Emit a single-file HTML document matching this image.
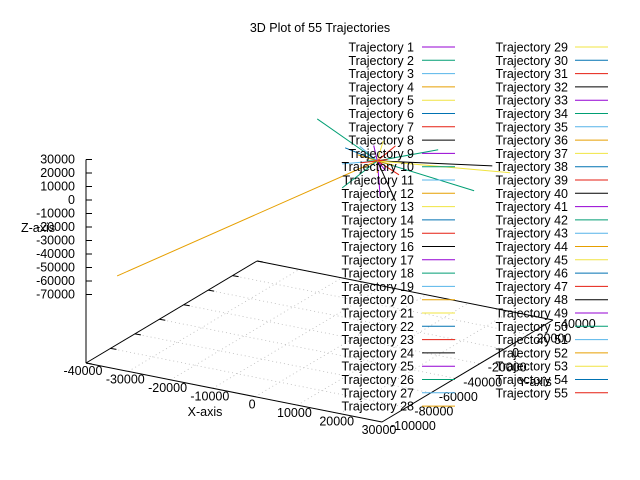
<!DOCTYPE html>
<html><head><meta charset="utf-8"><style>
html,body{margin:0;padding:0;background:#fff;}
svg{display:block;font-family:"Liberation Sans",sans-serif;}
</style></head><body>
<svg id="chart" width="640" height="480" viewBox="0 0 640 480">
<rect width="640" height="480" fill="#fff"/>
<text x="320" y="32" font-size="12.5" text-anchor="middle">3D Plot of 55 Trajectories</text>
<g id="grid"></g><g id="axes"></g><g id="series"></g><g id="legend"></g>
</svg>
<script>
const xTicks=[-40000,-30000,-20000,-10000,0,10000,20000,30000];
const yTicks=[-100000,-80000,-60000,-40000,-20000,0,20000,40000];
const zTicks=[30000,20000,10000,0,-10000,-20000,-30000,-40000,-50000,-60000,-70000];
const colors=["#9400d3","#009e73","#56b4e9","#e69f00","#f0e442","#0072b2","#e51e10","#000000"];
// trajectory endpoints [x,y,z] (start at origin)
const trajIds=[12,18,26,24,13,25,8,34,10,7,6,21,11,3,15,2,31,4,9,17,20,39,44];
const trajX=[-40000,-14200,22900,27200,31400,700,4300,-8300,14400,4300,-7600,1400,-8300,-5000,6000,-3000,3000,-6000,2000,-2000,5000,-4000,0];
const trajY=[-74500,0,0,0,0,0,0,0,0,0,0,0,0,3000,-3000,2000,-2000,5000,0,4000,-4000,0,0];
const trajZ=[-70000,22200,-7850,13300,10800,-26200,-27000,-25200,17200,13800,4900,15700,-7400,6000,-5000,-3000,4000,-2000,-6000,8000,2000,-4000,-9000];
const NS="http://www.w3.org/2000/svg";
function P(x,y,z){
  const sx=86+(x+40000)*296/70000+(y+100000)*171/140000;
  const sy=363+(x+40000)*59/70000-(y+100000)*102/140000-(z+120741)*0.00135;
  return [sx,sy];
}
function mk(tag,attrs,parent){const e=document.createElementNS(NS,tag);for(const k in attrs)e.setAttribute(k,attrs[k]);parent.appendChild(e);return e;}
const grid=document.getElementById('grid'),axes=document.getElementById('axes'),series=document.getElementById('series'),legend=document.getElementById('legend');
const zb=-120741;
xTicks.forEach(v=>{const a=P(v,-100000,zb),b=P(v,40000,zb);
  const l=mk('line',{x1:a[0],y1:a[1],x2:b[0],y2:b[1],stroke:'#bbb','stroke-width':0.8,'stroke-dasharray':'1,3'},grid);
  
  const t=mk('text',{x:a[0]-3,y:a[1]+12,'font-size':12.5,'text-anchor':'middle'},axes);t.textContent=v;
  });
yTicks.forEach(v=>{const a=P(-40000,v,zb),b=P(30000,v,zb);
  const l=mk('line',{x1:a[0],y1:a[1],x2:b[0],y2:b[1],stroke:'#bbb','stroke-width':0.8,'stroke-dasharray':'1,3'},grid);
  
  const tk=mk('line',{x1:a[0],y1:a[1],x2:a[0]+6,y2:a[1]+1,stroke:'#000'},axes);
  
  const t=mk('text',{x:b[0]+8,y:b[1]+8,'font-size':12.5,'text-anchor':'start'},axes);t.textContent=v;
  });
[[P(-40000,-100000,zb),P(30000,-100000,zb)],[P(30000,-100000,zb),P(30000,40000,zb)],[P(-40000,-100000,zb),P(-40000,40000,zb)],[P(-40000,40000,zb),P(30000,40000,zb)],[P(-40000,-100000,zb),P(-40000,-100000,30000)]].forEach(s=>{
  const l=mk('line',{x1:s[0][0],y1:s[0][1],x2:s[1][0],y2:s[1][1],stroke:'#000','stroke-width':1},axes);
  });
zTicks.forEach(v=>{const a=P(-40000,-100000,v);
  const tk=mk('line',{x1:a[0],y1:a[1],x2:a[0]+6,y2:a[1],stroke:'#000'},axes);
  
  const t=mk('text',{x:a[0]-11,y:a[1]+4,'font-size':12.5,'text-anchor':'end'},axes);t.textContent=v;
  });
[['X-axis',205,416,'x-axis-title'],['Z-axis',38,232,'z-axis-title'],['Y-axis',535,386,'y-axis-title']].forEach(d=>{
  const t=mk('text',{x:d[1],y:d[2],'font-size':12.5,'text-anchor':'middle'},axes);t.textContent=d[0];
  });
trajIds.forEach((id,i)=>{const a=P(0,0,0),b=P(trajX[i],trajY[i],trajZ[i]);
  const l=mk('line',{x1:a[0],y1:a[1],x2:b[0],y2:b[1],stroke:colors[(id-1)%8],'stroke-width':1},series);
  });
for(let i=1;i<=55;i++){
  const col=i<=28?0:1,row=i<=28?i-1:i-29;
  const tx=col?568:414,lx=col?575:422,lw=33,y=47+row*13.3;
  const g=mk('g',{},legend);
  
  const t=mk('text',{x:tx,y:y+4.5,'font-size':12.5,'text-anchor':'end'},g);t.textContent='Trajectory '+i;
  mk('line',{x1:lx,y1:y,x2:lx+lw,y2:y,stroke:colors[(i-1)%8],'stroke-width':1},g);
}
</script>
</body></html>
